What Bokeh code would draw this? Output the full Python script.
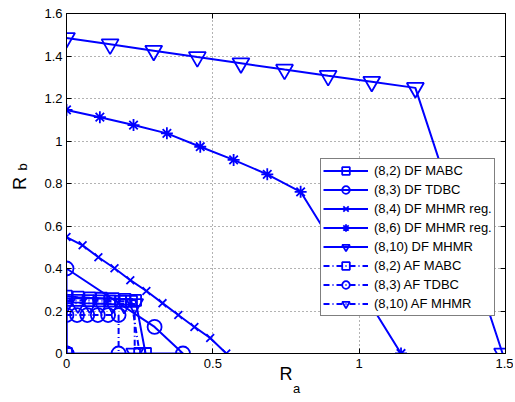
import math
from bokeh.plotting import figure
from bokeh.models import (FixedTicker, CustomJSTickFormatter, LinearAxis, Range1d,
                          Label, Legend, LegendItem, Title)
from bokeh.embed import file_html
from bokeh.resources import INLINE

# ---------------- data ----------------
x_ticks = [0, 0.5, 1, 1.5]
y_ticks = [0, 0.2, 0.4, 0.6, 0.8, 1, 1.2, 1.4, 1.6]

# DF curves (solid)
df_mabc_x = [0, 0, 0.04, 0.08, 0.12, 0.16, 0.20, 0.236, 0.27]
df_mabc_y = [0, 0.27, 0.265, 0.262, 0.26, 0.258, 0.255, 0.25, 0]

df_tdbc_x = [0, 0, 0.301, 0.398, 0]
df_tdbc_y = [0, 0.40, 0.125, 0, 0]

df_mhmr4_x = [0, 0.055, 0.109, 0.164, 0.218, 0.273, 0.328, 0.382, 0.437, 0.491, 0.546]
df_mhmr4_y = [0.548, 0.509, 0.453, 0.401, 0.345, 0.294, 0.237, 0.181, 0.125, 0.073, 0]

df_mhmr6_x = [0, 0.114, 0.229, 0.343, 0.457, 0.571, 0.686, 0.80, 1.143]
df_mhmr6_y = [1.146, 1.112, 1.075, 1.036, 0.973, 0.911, 0.843, 0.761, 0]

df_mhmr10_x = [0, 0.149, 0.298, 0.447, 0.596, 0.745, 0.894, 1.043, 1.192, 1.49]
df_mhmr10_y = [1.485, 1.455, 1.425, 1.395, 1.366, 1.336, 1.307, 1.279, 1.25, 0]

# AF curves (dash-dot)
af_mabc_x = [0, 0.037, 0.074, 0.111, 0.148, 0.185, 0.222, 0.25]
af_mabc_y = [0.25, 0.25, 0.249, 0.248, 0.247, 0.246, 0.245, 0]

af_tdbc_x = [0, 0.036, 0.071, 0.107, 0.142, 0.178, 0.178]
af_tdbc_y = [0.181, 0.181, 0.181, 0.181, 0.181, 0.181, 0]

af_mhmr10_x = [0, 0.039, 0.079, 0.118, 0.157, 0.197, 0.233, 0.233]
af_mhmr10_y = [0.236, 0.236, 0.236, 0.235, 0.235, 0.234, 0.233, 0]

labels = ["(8,2) DF MABC", "(8,3) DF TDBC", "(8,4) DF MHMR reg.", "(8,6) DF MHMR reg.",
          "(8,10) DF MHMR", "(8,2) AF MABC", "(8,3) AF TDBC", "(8,10) AF MHMR"]

BLUE = "#0000ff"
FONT = "Liberation Sans"

# frame geometry (page pixels) and ranges
FL, FR, FT, FB = 66, 505, 13, 353
X0, X1, Y0, Y1 = 0, 1.5, 0, 1.6

p = figure(width=513, height=400, x_range=Range1d(X0, X1), y_range=Range1d(Y0, Y1),
           output_backend="svg", toolbar_location=None,
           min_border_left=FL, min_border_right=513 - FR, min_border_top=FT,
           min_border_bottom=400 - FB)
p.background_fill_color = "white"
p.border_fill_color = "white"
p.outline_line_color = "black"
p.outline_line_width = 1

fmt = CustomJSTickFormatter(code="return String(Math.round(tick*10)/10);")
for ax, ticks in ((p.xaxis[0], x_ticks), (p.yaxis[0], y_ticks)):
    ax.ticker = FixedTicker(ticks=ticks)
    ax.formatter = fmt
    ax.major_tick_in = 5
    ax.major_tick_out = 0
    ax.minor_tick_line_color = None
    ax.axis_line_color = "black"
    ax.major_tick_line_color = "black"
    ax.major_label_text_font = FONT
    ax.major_label_text_font_size = "13px"
    ax.major_label_text_color = "black"
    ax.axis_label = "R"
    ax.axis_label_text_font = FONT
    ax.axis_label_text_font_size = "18px"
    ax.axis_label_text_font_style = "normal"
    ax.axis_label_text_color = "black"
p.xaxis.major_label_standoff = 5
p.yaxis.major_label_standoff = 4
p.xaxis.axis_label_standoff = -7
p.yaxis.axis_label_standoff = 11

blank = CustomJSTickFormatter(code="return '';")
for loc, ticks in (("above", x_ticks), ("right", y_ticks)):
    ax = LinearAxis(ticker=FixedTicker(ticks=ticks), formatter=blank,
                    major_tick_in=5, major_tick_out=0,
                    minor_tick_line_color=None, major_label_standoff=0,
                    axis_line_color="black")
    p.add_layout(ax, loc)

p.xgrid.ticker = FixedTicker(ticks=x_ticks)
p.ygrid.ticker = FixedTicker(ticks=y_ticks)
p.grid.grid_line_color = "black"
p.grid.grid_line_alpha = 0.6
p.grid.grid_line_dash = "1 3"
p.grid.grid_line_width = 1

series = [
    (df_mabc_x, df_mabc_y, "square", 11, "solid"),
    (df_tdbc_x, df_tdbc_y, "circle", 14, "solid"),
    (df_mhmr4_x, df_mhmr4_y, "x", 11, "solid"),
    (df_mhmr6_x, df_mhmr6_y, "asterisk", 12, "solid"),
    (df_mhmr10_x, df_mhmr10_y, "inverted_triangle", 17, "solid"),
    (af_mabc_x, af_mabc_y, "square", 11, "6 3 1 3"),
    (af_tdbc_x, af_tdbc_y, "circle", 14, "6 3 1 3"),
    (af_mhmr10_x, af_mhmr10_y, "inverted_triangle", 17, "6 3 1 3"),
]

items = []
for (xs, ys, marker, size, dash), lab in zip(series, labels):
    lr = p.line(xs, ys, line_color=BLUE, line_width=2, line_dash=dash)
    sr = p.scatter(xs, ys, marker=marker, size=size, fill_color=None,
                   line_color=BLUE, line_width=1.8)
    items.append(LegendItem(label=lab, renderers=[lr, sr]))

legend = Legend(items=items, location=(254, 37), orientation="vertical")
legend.border_line_color = "black"
legend.border_line_width = 1
legend.background_fill_color = "white"
legend.background_fill_alpha = 1
legend.padding = 2
legend.margin = 0
legend.spacing = 0
legend.glyph_width = 45
legend.glyph_height = 19
legend.label_height = 19
legend.label_standoff = 6
legend.label_text_font = FONT
legend.label_text_font_size = "13px"
legend.label_text_color = "black"
p.add_layout(legend, "center")

# subscript "a": a label in the (narrow) right panel, placed through the scales
def to_data(px, py):
    x = X0 + (px - FL) * (X1 - X0) / (FR - FL)
    y = Y0 + (FB - py) * (Y1 - Y0) / (FB - FT)
    return x, y

ax_, ay_ = to_data(296, 388)
p.add_layout(Label(x=ax_, y=ay_, text="a", text_align="center", text_baseline="middle",
                   text_font=FONT, text_font_size="13px", text_color="black"), "right")

# subscript "b": a title in the left panel (drawn rotated, like the axis label)
p.add_layout(Title(text="b", align="left", offset=183, vertical_align="bottom",
                   standoff=-45, text_font=FONT, text_font_size="13px",
                   text_font_style="normal", text_color="black"), "left")

open("out.html", "w").write(file_html(p, INLINE))
